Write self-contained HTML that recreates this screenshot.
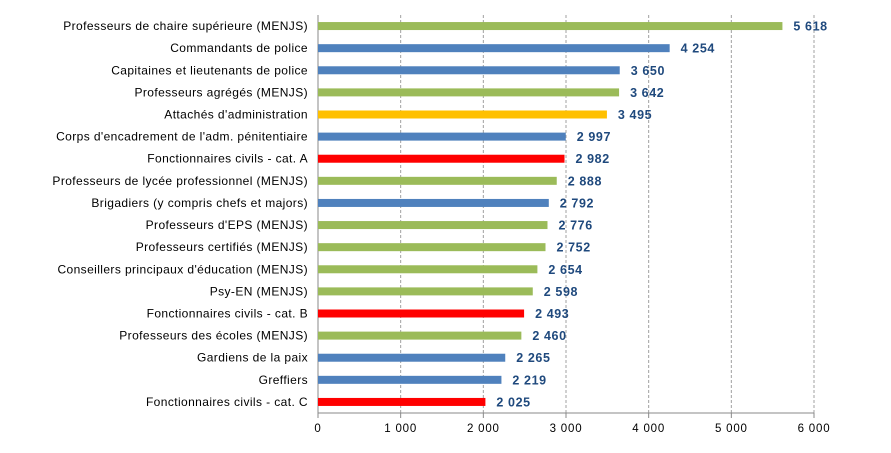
<!DOCTYPE html>
<html><head><meta charset="utf-8"><style>
body{margin:0;background:#fff;width:891px;height:448px;overflow:hidden}
svg{font-family:"Liberation Sans",sans-serif}
</style></head><body>
<svg id="chart" width="891" height="448" xmlns="http://www.w3.org/2000/svg"></svg>
<script>
const categories=["Professeurs de chaire supérieure (MENJS)","Commandants de police","Capitaines et lieutenants de police","Professeurs agrégés (MENJS)","Attachés d'administration","Corps d'encadrement de l'adm. pénitentiaire","Fonctionnaires civils - cat. A","Professeurs de lycée professionnel (MENJS)","Brigadiers (y compris chefs et majors)","Professeurs d'EPS (MENJS)","Professeurs certifiés (MENJS)","Conseillers principaux d'éducation (MENJS)","Psy-EN (MENJS)","Fonctionnaires civils - cat. B","Professeurs des écoles (MENJS)","Gardiens de la paix","Greffiers","Fonctionnaires civils - cat. C"];
const values=[5618,4254,3650,3642,3495,2997,2982,2888,2792,2776,2752,2654,2598,2493,2460,2265,2219,2025];
const groups=["g","b","b","g","y","b","r","g","b","g","g","g","g","r","g","b","b","r"];
const ticks=[0,1000,2000,3000,4000,5000,6000];
const tickLabels=["0","1 000","2 000","3 000","4 000","5 000","6 000"];
const colors={g:"#9BBB59",b:"#4F81BD",y:"#FFC000",r:"#FF0000"};
const svg=document.getElementById('chart');
const NS="http://www.w3.org/2000/svg";
const x0=318,x1=814,top0=15,axisY=413;
const xs=v=>x0+(v/6000)*(x1-x0);
const rowH=(axisY-top0)/categories.length;
const yc=i=>top0+rowH*(i+0.5);
function mk(t,a){const e=document.createElementNS(NS,t);for(const k in a)e.setAttribute(k,a[k]);svg.appendChild(e);return e;}
ticks.forEach((t,i)=>{
  if(i>0){const g=mk('line',{x1:xs(t),x2:xs(t),y1:top0,y2:axisY,stroke:'#A0A0A0','stroke-dasharray':'3,2','stroke-width':1});
  
  }
  const tk=mk('line',{x1:xs(t),x2:xs(t),y1:axisY,y2:axisY+5,stroke:'#888'});
  
  
  const l=mk('text',{x:xs(t),y:axisY+19,'text-anchor':'middle','font-size':11.5,'letter-spacing':0.8,fill:'#000'});
  l.textContent=tickLabels[i];
  
  
});
const ax=mk('line',{x1:x0,x2:x1,y1:axisY,y2:axisY,stroke:'#888'});


const ay=mk('line',{x1:x0,x2:x0,y1:top0,y2:axisY,stroke:'#888'});


categories.forEach((c,i)=>{
  const y=yc(i);
  const b=mk('rect',{x:x0,y:y-4,width:xs(values[i])-x0,height:8,fill:colors[groups[i]]});
  
  
  const l=mk('text',{x:308,y:y+4,'text-anchor':'end','font-size':12,'letter-spacing':0.4,fill:'#000'});
  l.textContent=c;
  
  
  const v=mk('text',{x:xs(values[i])+11,y:y+4.5,'font-size':12.5,'letter-spacing':0.6,'font-weight':'bold',fill:'#1F497D'});
  v.textContent=values[i].toLocaleString('fr-FR').replace(/\s/g,' ');
  
  
});
</script>
</body></html>
